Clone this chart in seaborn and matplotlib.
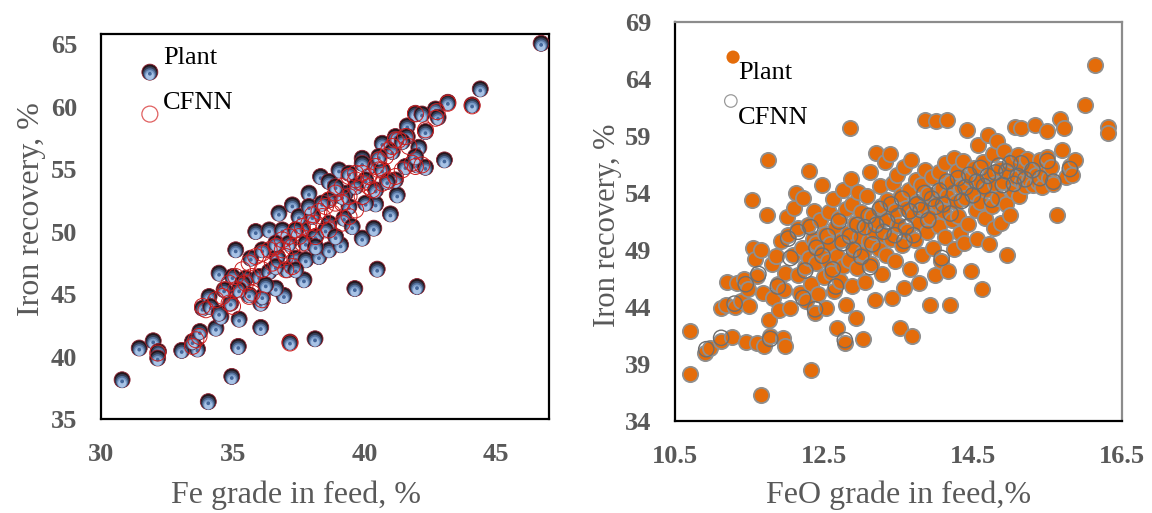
import numpy as np
import pandas as pd
import matplotlib
matplotlib.use("Agg")
import matplotlib.pyplot as plt
from matplotlib.path import Path
import seaborn as sns

# ---------------- data ----------------
# Left panel: Fe grade in feed vs iron recovery
plant_fe = [46.70, 44.39, 44.08, 43.16, 42.69, 42.79, 41.93, 42.18, 41.62, 42.31,
            43.03, 42.06, 41.99, 42.31, 41.24, 40.98, 40.48, 41.99, 39.63, 39.91,
            40.35, 40.42, 38.12, 37.17, 36.06, 35.21, 34.96, 34.07, 30.80, 31.45,
            31.98, 32.18, 32.15, 33.06, 33.66, 33.47, 33.75, 34.36, 35.24, 34.55,
            33.85, 34.10, 34.92, 36.06, 36.12, 35.62, 36.94, 36.63, 34.48, 34.99,
            35.49, 36.00, 36.38, 37.07, 37.70, 35.11, 35.68, 36.12, 36.69, 37.39,
            37.77, 38.27, 38.65, 39.09, 35.87, 36.38, 36.88, 36.75, 37.26, 37.89,
            38.33, 39.03, 39.91, 40.67, 41.17, 41.62, 38.65, 39.41, 40.16, 41.05,
            41.55, 41.17, 40.67, 40.04, 39.28, 38.65, 39.41, 40.04, 39.22, 39.53,
            38.65, 38.02, 37.64, 38.14, 38.52, 37.77, 37.13, 36.63, 37.51, 37.89,
            38.39, 39.15, 38.90, 39.66, 40.42, 40.86, 40.54, 39.91, 41.43, 41.93,
            35.37, 36.25, 34.67, 35.24, 34.16, 34.48, 37.39, 38.90, 38.14, 36.63,
            37.39]
plant_rec = [65.06, 61.41, 60.13, 60.34, 59.80, 59.14, 59.46, 59.40, 58.45, 58.00,
             55.73, 56.74, 55.33, 55.14, 52.93, 51.41, 46.99, 45.60, 45.44, 49.47,
             50.27, 52.21, 41.42, 41.16, 42.33, 40.81, 38.41, 36.39, 38.14, 40.68,
             41.26, 40.41, 39.88, 40.49, 40.60, 41.20, 42.00, 42.27, 42.99, 43.20,
             43.87, 44.80, 44.27, 44.27, 44.80, 44.94, 44.89, 45.47, 46.67, 46.40,
             46.27, 46.40, 46.80, 46.94, 46.14, 48.54, 47.87, 48.54, 48.00, 47.87,
             47.74, 48.00, 48.54, 48.94, 50.00, 50.13, 50.13, 51.47, 52.13, 53.07,
             54.40, 54.93, 55.86, 57.06, 57.60, 57.60, 54.00, 54.66, 55.20, 56.40,
             55.20, 54.13, 54.93, 54.13, 53.07, 52.53, 52.00, 52.27, 51.07, 50.40,
             50.67, 51.20, 50.13, 49.60, 50.13, 49.07, 49.07, 49.07, 51.20, 52.00,
             52.27, 52.80, 53.60, 53.60, 53.33, 54.00, 56.00, 55.46, 57.20, 56.00,
             45.87, 45.74, 45.34, 45.34, 44.00, 43.47, 50.13, 49.60, 48.80, 47.20,
             46.94]

cfnn_fe = [42.75, 42.69, 44.08, 43.16, 41.93, 41.30, 40.92, 40.54, 40.42, 40.16,
           39.66, 39.41, 39.15, 38.90, 38.65, 38.52, 38.27, 38.02, 37.89, 37.64,
           37.39, 37.13, 36.88, 36.63, 36.38, 36.12, 35.87, 35.62, 35.37, 35.11,
           34.86, 34.73, 34.61, 34.36, 33.85, 33.98, 34.86, 34.99, 33.60, 33.72,
           33.47, 32.15, 37.17, 37.01, 37.26, 36.75, 36.88, 37.64, 38.14, 38.65,
           39.15, 39.41, 39.66, 39.91, 40.29, 40.67, 40.92, 41.17, 41.43, 41.81,
           41.93, 42.18, 41.05, 40.80, 40.67, 39.91, 40.16, 39.41, 38.90, 38.40,
           37.89, 37.51, 37.26, 37.01, 36.50, 36.12, 35.74, 35.49, 35.11, 35.74,
           35.62, 36.12, 41.17, 41.55, 41.68, 42.31, 40.54, 39.91, 39.66, 39.15,
           38.78, 38.14]
cfnn_rec = [59.59, 59.06, 60.05, 60.26, 59.41, 57.33, 56.53, 55.73, 55.20, 54.40,
            54.66, 54.40, 53.60, 53.07, 52.53, 52.00, 51.60, 51.33, 50.67, 50.40,
            50.13, 49.60, 49.34, 48.80, 48.54, 48.27, 48.00, 47.47, 46.94, 46.40,
            45.87, 45.34, 44.81, 44.54, 44.01, 43.74, 44.27, 44.01, 41.34, 41.61,
            40.81, 40.28, 41.08, 46.94, 47.20, 47.74, 48.54, 49.07, 49.60, 50.13,
            50.67, 51.20, 51.73, 52.80, 53.33, 53.86, 54.13, 54.40, 54.93, 55.46,
            55.20, 55.33, 56.80, 56.00, 54.93, 53.86, 53.60, 52.80, 52.27, 51.20,
            50.13, 49.60, 48.80, 48.00, 47.47, 46.94, 46.40, 45.87, 45.34, 45.07,
            44.81, 44.54, 57.33, 57.60, 56.80, 58.13, 54.93, 54.66, 54.13, 52.27,
            51.47, 50.67]

# Right panel: FeO grade in feed vs iron recovery
plant_feo = [10.70, 10.70, 10.90, 10.97, 11.12, 11.12, 11.18, 11.20,
             11.27, 11.30, 11.33, 11.38, 11.43, 11.45, 11.48, 11.50, 11.53, 11.55, 11.58, 11.60, 11.60,
             11.65, 11.66, 11.68, 11.70, 11.73, 11.75, 11.76, 11.78, 11.80, 11.82, 11.85, 11.88, 11.90,
             11.92, 11.95, 11.96, 11.98, 11.98,
             12.00, 12.02, 12.05, 12.08, 12.10, 12.12, 12.15, 12.15, 12.18, 12.20, 12.22, 12.24, 12.26,
             12.28, 12.30, 12.30, 12.32, 12.33, 12.35, 12.36, 12.38, 12.40, 12.40,
             12.42, 12.45, 12.47, 12.48, 12.50, 12.52, 12.53, 12.55, 12.57, 12.58, 12.60, 12.62, 12.63,
             12.65, 12.67, 12.68, 12.70, 12.72, 12.73, 12.75, 12.76, 12.78, 12.80, 12.80,
             12.82, 12.84, 12.85, 12.86, 12.87, 12.88, 12.90, 12.92, 12.93, 12.95, 12.96, 12.98, 13.00,
             13.02, 13.03, 13.05, 13.06, 13.08, 13.10, 13.12, 13.13, 13.15, 13.17, 13.18, 13.20,
             13.22, 13.24, 13.25, 13.27, 13.28, 13.30, 13.32, 13.33, 13.35, 13.36, 13.38, 13.40, 13.41,
             13.43, 13.45, 13.46, 13.48, 13.50, 13.52, 13.53, 13.55, 13.57, 13.58, 13.60,
             13.62, 13.64, 13.65, 13.67, 13.68, 13.70, 13.72, 13.73, 13.75, 13.77, 13.78, 13.80, 13.82,
             13.84, 13.85, 13.86, 13.88, 13.90, 13.92, 13.93, 13.95, 13.97, 13.99, 14.00,
             14.02, 14.04, 14.05, 14.07, 14.08, 14.10, 14.12, 14.13, 14.15, 14.15, 14.17, 14.19, 14.20,
             14.22, 14.24, 14.25, 14.27, 14.29, 14.30, 14.32, 14.34, 14.36, 14.38, 14.40,
             14.42, 14.44, 14.46, 14.48, 14.50, 14.52, 14.54, 14.55, 14.57, 14.59, 14.60, 14.62, 14.64,
             14.66, 14.68, 14.70, 14.72, 14.73, 14.75, 14.77, 14.78, 14.80,
             14.82, 14.84, 14.86, 14.88, 14.90, 14.92, 14.94, 14.96, 14.97, 15.00, 15.02, 15.04, 15.06,
             15.08, 15.10, 15.12, 15.14, 15.16, 15.18, 15.20,
             15.22, 15.25, 15.28, 15.30, 15.33, 15.35, 15.38, 15.40, 15.43, 15.46, 15.49, 15.50, 15.52,
             15.55, 15.58,
             15.63, 15.67, 15.70, 15.72, 15.75, 15.80, 15.83, 15.87, 16.00, 16.14, 16.31, 16.31]
plant_rec2 = [41.9, 38.1, 40.0, 40.4, 41.0, 43.9, 44.2, 46.2,
              41.4, 44.0, 46.1, 44.5, 46.5, 40.9, 45.6, 44.1, 53.4, 49.2, 48.2, 46.7, 40.8,
              36.3, 49.0, 45.2, 40.6, 52.1, 56.9, 42.9, 41.5, 47.8, 44.8, 48.5, 46.0, 43.7,
              49.8, 41.3, 45.5, 47.0, 40.6,
              51.9, 50.3, 43.9, 48.6, 52.7, 54.0, 46.8, 50.9, 45.2, 49.2, 53.6, 47.5, 44.5,
              51.2, 48.3, 55.9, 46.0, 38.5, 50.0, 52.4, 43.5, 47.9, 49.6,
              45.1, 51.6, 48.8, 54.7, 46.6, 50.4, 43.9, 48.0, 52.3, 49.5, 47.0, 53.5, 45.4,
              50.9, 48.5, 42.2, 51.8, 46.3, 49.9, 54.3, 47.6, 40.8, 52.6, 44.2,
              50.5, 48.1, 59.7, 55.2, 45.8, 53.0, 49.3, 51.4, 43.0, 47.4, 54.1, 50.1, 52.3,
              48.7, 41.2, 46.2, 51.0, 53.7, 49.8, 55.8, 47.8, 52.0, 50.6, 44.6, 57.5,
              51.5, 49.1, 54.6, 52.9, 46.9, 50.3, 56.7, 48.6, 53.4, 51.8, 57.4, 50.0, 44.8,
              54.9, 52.4, 48.0, 55.6, 51.2, 42.2, 53.8, 49.4, 56.3, 45.7, 52.7,
              50.7, 54.3, 47.3, 56.9, 41.5, 52.1, 49.9, 55.1, 53.2, 51.4, 46.1, 54.7, 48.6,
              52.8, 60.4, 56.0, 50.6, 53.9, 44.2, 51.9, 55.4, 49.2, 46.8, 60.3,
              53.1, 51.1, 55.8, 48.0, 54.4, 52.4, 50.1, 56.6, 53.7, 60.4, 47.2, 44.2, 55.0,
              51.6, 57.1, 49.1, 53.2, 55.9, 52.0, 50.5, 54.5, 56.8, 49.6, 53.6,
              59.5, 51.3, 55.3, 47.2, 54.0, 56.2, 52.5, 50.0, 58.2, 55.0, 53.2, 45.6, 56.7,
              51.8, 54.3, 59.1, 49.5, 55.7, 52.9, 57.4, 50.9, 54.8,
              58.6, 53.6, 56.1, 51.4, 55.0, 57.7, 53.0, 48.6, 55.8, 52.1, 56.9, 54.2, 59.8,
              55.3, 57.3, 53.7, 59.7, 55.0, 56.2, 54.6,
              57.0, 55.1, 56.0, 54.7, 60.0, 55.6, 55.0, 56.9, 54.5, 55.7, 59.4, 57.2, 55.3,
              56.3, 54.8,
              52.1, 60.5, 57.8, 59.7, 55.4, 56.4, 55.6, 56.9, 61.7, 65.2, 59.8, 59.3]

cfnn_feo = [10.92, 11.12, 11.30, 11.45, 11.62, 11.78, 11.88, 12.05, 12.15, 12.25, 12.32, 12.40,
            12.48, 12.55, 12.62, 12.70, 12.75, 12.78, 12.85, 12.90, 12.95, 13.00, 13.05, 13.10,
            13.15, 13.20, 13.25, 13.30, 13.35, 13.40, 13.45, 13.50, 13.55, 13.60, 13.65, 13.70,
            13.75, 13.80, 13.85, 13.90, 13.95, 14.00, 14.05, 14.10, 14.15, 14.20, 14.25, 14.30,
            14.35, 14.40, 14.45, 14.50, 14.55, 14.60, 14.65, 14.70, 14.75, 14.80, 14.85, 14.90,
            14.95, 15.00, 15.05, 15.10, 15.15, 15.20, 15.30, 15.40, 15.50, 15.58, 15.80, 12.22,
            12.02, 13.12, 12.66, 13.58, 14.08, 12.38]
cfnn_rec2 = [40.3, 41.3, 44.3, 46.0, 46.9, 41.2, 45.8, 48.3, 50.6, 47.2, 51.0, 49.2,
             48.5, 50.2, 47.3, 51.5, 49.6, 41.1, 50.2, 49.0, 51.2, 48.4, 51.0, 52.0,
             49.5, 51.2, 52.6, 50.6, 51.5, 53.0, 50.3, 52.0, 53.5, 51.0, 52.4, 50.3,
             53.0, 52.5, 54.0, 51.6, 53.5, 52.8, 54.2, 53.0, 55.0, 52.2, 54.0, 55.3,
             53.3, 54.5, 55.6, 53.8, 55.0, 56.2, 54.6, 55.5, 53.4, 55.8, 56.4, 54.7,
             55.9, 56.6, 54.8, 55.5, 56.6, 55.2, 56.0, 55.3, 56.8, 55.0, 56.1, 44.8,
             50.0, 47.5, 45.8, 49.8, 48.3, 43.8]

left_xticks = [30, 35, 40, 45]
left_yticks = [35, 40, 45, 50, 55, 60, 65]
right_xticks = [10.5, 12.5, 14.5, 16.5]
right_yticks = [34, 39, 44, 49, 54, 59, 64, 69]

# ---------------- styling ----------------
sns.set_theme(style="white")
plt.rcParams["font.family"] = ["Liberation Serif", "DejaVu Serif"]
GREY_TXT = "#595959"

fig = plt.figure(figsize=(11.52, 5.13), dpi=100)
axL = fig.add_axes([0.0877, 0.1832, 0.3889, 0.7505])
axR = fig.add_axes([0.5859, 0.1793, 0.3880, 0.7778])

# sphere marker layers: (center dy, radius, color), units of marker size
SPHERE = [(0.00, 0.50, "#24151a"),
          (-0.07, 0.43, "#353f58"),
          (-0.13, 0.37, "#54729e"),
          (-0.18, 0.31, "#7f9fca"),
          (-0.23, 0.25, "#a9c3e6"),
          (-0.10, 0.12, "#44679b")]
SPH_PATHS = [Path.circle((0, dy), r) for dy, r, c in SPHERE]
SPH_COLORS = [c for dy, r, c in SPHERE]
SPH_EDGE = ["#8e2232"] + ["none"] * (len(SPHERE) - 1)
SPH_LW = [0.6] + [0.0] * (len(SPHERE) - 1)
SPH_S = 11.5 ** 2


def make_sphere(coll):
    coll.set_paths(SPH_PATHS)
    coll.set_facecolors(SPH_COLORS)
    coll.set_edgecolors(SPH_EDGE)
    coll.set_linewidths(SPH_LW)
    coll.set_sizes([SPH_S])


# ---------------- left panel ----------------
nl = len(SPHERE)
dfL = pd.DataFrame({"fe": np.repeat(plant_fe, nl), "rec": np.repeat(plant_rec, nl)})
sns.scatterplot(data=dfL, x="fe", y="rec", ax=axL, s=SPH_S, legend=False, zorder=3)
make_sphere(axL.collections[-1])

dfLc = pd.DataFrame({"fe": cfnn_fe, "rec": cfnn_rec})
sns.scatterplot(data=dfLc, x="fe", y="rec", ax=axL, s=SPH_S, facecolor="none",
                edgecolor="#cc1f1f", linewidth=0.7, legend=False, zorder=4)

axL.set_xlim(30, 47)
axL.set_ylim(35, 65.8)
axL.set_xticks(left_xticks)
axL.set_yticks(left_yticks)

# legend (manual, as in the reference)
legP = axL.scatter([0.109] * nl, [0.901] * nl, transform=axL.transAxes, s=SPH_S, zorder=6)
make_sphere(legP)
axL.text(0.138, 0.938, "Plant", transform=axL.transAxes, fontsize=19,
         color="black", va="center", ha="left")
axL.scatter([0.109], [0.792], transform=axL.transAxes, s=SPH_S, facecolor="none",
            edgecolor="#e06060", linewidth=0.9, zorder=6)
axL.text(0.138, 0.821, "CFNN", transform=axL.transAxes, fontsize=19,
         color="black", va="center", ha="left")

axL.set_xlabel("Fe grade in feed, %", fontsize=23, color=GREY_TXT)
axL.set_ylabel("Iron recovery, %", fontsize=23, color=GREY_TXT)
axL.xaxis.set_label_coords(0.435, -0.16)
axL.yaxis.set_label_coords(-0.122, 0.545)

for sp in axL.spines.values():
    sp.set_visible(True)
    sp.set_color("black")
    sp.set_linewidth(1.6)

# ---------------- right panel ----------------
dfR = pd.DataFrame({"feo": plant_feo, "rec": plant_rec2})
sns.scatterplot(data=dfR, x="feo", y="rec", ax=axR, s=11 ** 2, color="#E46C0A",
                edgecolor="#8f8f8f", linewidth=1.3, legend=False, zorder=3)
dfRc = pd.DataFrame({"feo": cfnn_feo, "rec": cfnn_rec2})
sns.scatterplot(data=dfRc, x="feo", y="rec", ax=axR, s=11 ** 2, facecolor="none",
                edgecolor="#6e6e6e", linewidth=1.0, legend=False, zorder=4)

axR.set_xlim(10.5, 16.5)
axR.set_ylim(34, 69)
axR.set_xticks(right_xticks)
axR.set_yticks(right_yticks)

axR.scatter([0.13], [0.912], transform=axR.transAxes, s=9.5 ** 2, color="#E46C0A",
            edgecolor="none", zorder=6)
axR.text(0.141, 0.873, "Plant", transform=axR.transAxes, fontsize=19,
         color="black", va="center", ha="left")
axR.scatter([0.125], [0.802], transform=axR.transAxes, s=9 ** 2, facecolor="none",
            edgecolor="#9a9a9a", linewidth=0.9, zorder=6)
axR.text(0.141, 0.759, "CFNN", transform=axR.transAxes, fontsize=19,
         color="black", va="center", ha="left")

axR.set_xlabel("FeO grade in feed,%", fontsize=23, color=GREY_TXT)
axR.set_ylabel("Iron recovery, %", fontsize=22, color=GREY_TXT)
axR.xaxis.set_label_coords(0.501, -0.15)
axR.yaxis.set_label_coords(-0.118, 0.49)

for name, sp in axR.spines.items():
    sp.set_visible(True)
    sp.set_linewidth(1.6)
    sp.set_color("black" if name in ("left", "bottom") else "#8c8c8c")

for ax in (axL, axR):
    ax.set_facecolor("white")
    ax.grid(False)
    ax.tick_params(axis="x", direction="in", length=6, width=1.6, color="black",
                   pad=17, labelsize=19, labelcolor=GREY_TXT)
    ax.tick_params(axis="y", direction="in", length=0, pad=17, labelsize=19,
                   labelcolor=GREY_TXT)
    for lab in ax.get_xticklabels() + ax.get_yticklabels():
        lab.set_fontweight("bold")

fig.savefig("out.png", dpi=100, facecolor="white")
